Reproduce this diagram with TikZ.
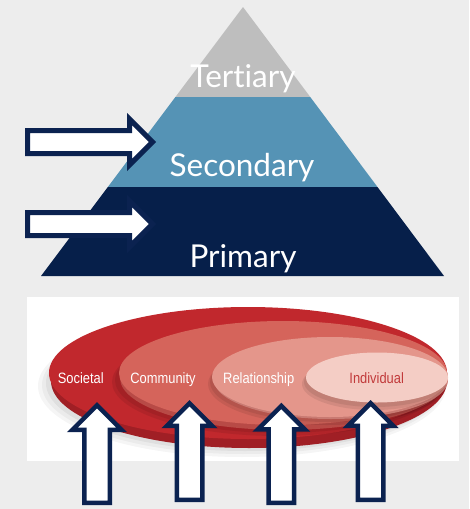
\documentclass[tikz,border=0pt]{standalone}
\usepackage{fontspec}
\newfontfamily\latofont[Ligatures={NoCommon}]{Lato}
\newfontfamily\arialfont{Liberation Sans}
\definecolor{bg}{HTML}{EDEDED}
\definecolor{tert}{HTML}{BEBEBE}
\definecolor{second}{HTML}{5593B5}
\definecolor{prim}{HTML}{061F4A}
\definecolor{navy}{HTML}{0B2250}
\definecolor{socred}{HTML}{C1282D}
\definecolor{socrim}{HTML}{A01F25}
\definecolor{comred}{HTML}{D5645B}
\definecolor{comrim}{HTML}{B84A46}
\definecolor{relred}{HTML}{E4968B}
\definecolor{relrim}{HTML}{C97A72}
\definecolor{indred}{HTML}{F4CDC5}
\definecolor{indtext}{HTML}{C13A3B}
\newcommand\uparrowshape[4]{%
  \draw[uparrowbox] ({#1-12.75},{#4-2.25}) -- ({#1-12.75},{#3-2.25})
    -- ({#1-(#3-#2-5.43)},{#3-2.25}) -- (#1,{#2+3.18})
    -- ({#1+(#3-#2-5.43)},{#3-2.25}) -- ({#1+12.75},{#3-2.25})
    -- ({#1+12.75},{#4-2.25}) -- cycle;}
\begin{document}
\begin{tikzpicture}[x=1pt,y=-1pt,
  levellabel/.style={font=\latofont\fontsize{31.5}{38}\selectfont, text=white, anchor=base, inner sep=0pt},
  ringlabel/.style={font=\arialfont\fontsize{15}{18}\selectfont, text=white, anchor=base, inner sep=0pt, xscale=0.86},
  arrowbox/.style={fill=white, draw=navy, line width=5pt, miter limit=10, line join=miter},
  uparrowbox/.style={fill=white, draw=navy, line width=4.5pt, miter limit=10, line join=miter}]
\fill[bg] (0,0) rectangle (469,509);
\useasboundingbox (0,0) rectangle (469,509);
% pyramid
\begin{scope}
\clip (243,7) -- (444,276) -- (41,276) -- cycle;
\fill[tert] (0,0) rectangle (469,97);
\fill[second] (0,97) rectangle (469,187);
\fill[prim] (0,187) rectangle (469,277);
\end{scope}
\node[levellabel] (tertiary) at (243,87) {Tertiary};
\node[levellabel] (secondary) at (242,176) {Secondary};
\node[levellabel] (primary) at (243,267) {Primary};
% side arrows
\draw[arrowbox] (27.5,130.5) -- (129.5,130.5) -- (129.5,119) -- (152.5,142) -- (129.5,165) -- (129.5,153.5) -- (27.5,153.5) -- cycle;
\begin{scope}[shift={(0,82)}]
\draw[arrowbox] (27.5,130.5) -- (129.5,130.5) -- (129.5,119) -- (152.5,142) -- (129.5,165) -- (129.5,153.5) -- (27.5,153.5) -- cycle;
\end{scope}
% bottom panel
\fill[white] (27,297) rectangle (459,461);
\fill[black, opacity=0.04] (242,386) ellipse [x radius=204pt, y radius=71pt];
\fill[black, opacity=0.04] (243,385) ellipse [x radius=201pt, y radius=69pt];
\fill[black, opacity=0.05] (245,383) ellipse [x radius=199pt, y radius=68pt];
\fill[socrim] (249,381) ellipse [x radius=198pt, y radius=67pt];
\fill[socred] (248,373) ellipse [x radius=199pt, y radius=66pt];
\fill[black, opacity=0.08] (278,382) ellipse [x radius=166pt, y radius=54pt];
\fill[black, opacity=0.08] (280,380) ellipse [x radius=165pt, y radius=53pt];
\fill[comrim] (284,378) ellipse [x radius=164pt, y radius=52pt];
\fill[comred] (283,373) ellipse [x radius=164pt, y radius=52pt];
\fill[black, opacity=0.08] (327,384) ellipse [x radius=119pt, y radius=41pt];
\fill[black, opacity=0.08] (328,382) ellipse [x radius=118pt, y radius=40pt];
\fill[relrim] (331,380) ellipse [x radius=117pt, y radius=39pt];
\fill[relred] (330,377) ellipse [x radius=118pt, y radius=40pt];
\fill[black, opacity=0.08] (374,384) ellipse [x radius=72pt, y radius=26pt];
\fill[black, opacity=0.08] (375,382) ellipse [x radius=71pt, y radius=25pt];
\fill[indred] (377,377.5) ellipse [x radius=71pt, y radius=25pt];
\node[ringlabel] (societal) at (80.8,383) {Societal};
\node[ringlabel] (community) at (163,383) {Community};
\node[ringlabel] (relationship) at (258.7,383) {Relationship};
\node[ringlabel, text=indtext] (individual) at (376.7,383) {Individual};
% up arrows
\uparrowshape{97}{402}{432}{505}
\uparrowshape{189.5}{400}{428}{502}
\uparrowshape{281.3}{402.7}{431.7}{505}
\uparrowshape{370.7}{400}{428}{502}
\end{tikzpicture}
\end{document}
